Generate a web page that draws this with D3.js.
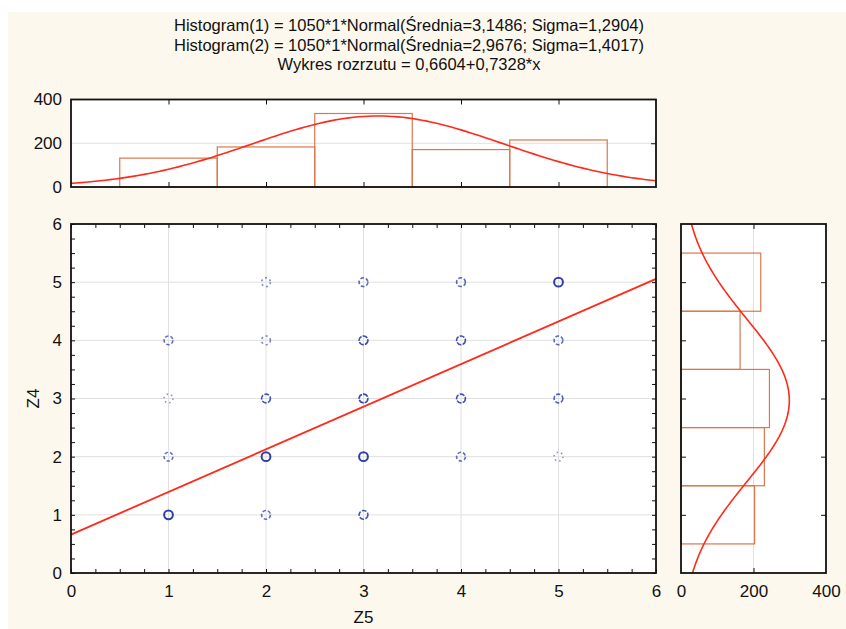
<!DOCTYPE html>
<html>
<head>
<meta charset="utf-8">
<script src="https://cdn.jsdelivr.net/npm/d3@7"></script>
<style>
  body { margin: 0; background: #fff; }
  svg { display: block; font-family: "Liberation Sans", Arial, sans-serif; }
  .tick text { font-family: "Liberation Sans", Arial, sans-serif; font-size: 17px; fill: #111; }
  .tick line { stroke: #111; }
</style>
</head>
<body>
<svg width="846" height="629"></svg>
<script>
// DATA

var titleLines = [
    "Histogram(1) = 1050*1*Normal(Średnia=3,1486; Sigma=1,2904)",
    "Histogram(2) = 1050*1*Normal(Średnia=2,9676; Sigma=1,4017)",
    "Wykres rozrzutu = 0,6604+0,7328*x"
];

// top histogram (Z5)
var topBins = [1, 2, 3, 4, 5];
var topCounts = [132, 183, 336, 171, 215];
// right histogram (Z4)
var rightBins = [1, 2, 3, 4, 5];
var rightCounts = [203, 230, 244, 163, 220];

// fitted normals from the title
var fitN = 1050, mean1 = 3.1486, sd1 = 1.2904, mean2 = 2.9676, sd2 = 1.4017;
var regA = 0.6604, regB = 0.7328;

// scatter points: Z5, Z4, how strong the marker looks
var ptX = [1, 1, 1, 1, 2, 2, 2, 2, 2, 3, 3, 3, 3, 3, 4, 4, 4, 4, 5, 5, 5, 5];
var ptY = [1, 2, 3, 4, 1, 2, 3, 4, 5, 1, 2, 3, 4, 5, 2, 3, 4, 5, 2, 3, 4, 5];
var ptW = [1.0, 0.45, 0.1, 0.5, 0.5, 1.0, 0.75, 0.25, 0.2, 0.75, 1.0, 0.9, 0.85, 0.55,
           0.5, 0.8, 0.8, 0.6, 0.1, 0.65, 0.55, 1.0];

var mainTicks = [0, 1, 2, 3, 4, 5, 6];
var histTicks = [0, 200, 400];

// SETUP

var svg = d3.select("svg");

var x = d3.scaleLinear().domain([0, 6]).range([71, 656]),
    y = d3.scaleLinear().domain([0, 6]).range([573, 224]),
    topY = d3.scaleLinear().domain([0, 400]).range([187, 99.5]),
    rightX = d3.scaleLinear().domain([0, 400]).range([681, 826]);

var minor = d3.range(0, 6.001, 0.25);
var fmt = d3.format("d");

// background: cream with a white strip top and left
svg.append("rect").attr("width", 846).attr("height", 629).attr("fill", "#fff");
svg.append("rect").attr("x", 8).attr("y", 12).attr("width", 838).attr("height", 617)
    .attr("fill", "#fcf8ed");

// TITLE
svg.append("g").selectAll("text")
    .data(titleLines)
    .enter().append("text")
    .attr("x", 409)
    .attr("y", function (d, i) { return 31 + i * 19.5; })
    .attr("text-anchor", "middle")
    .attr("font-size", "16.5px")
    .attr("fill", "#111")
    .text(function (d) { return d; });

function normal(v, m, s) {
    return fitN * Math.exp(-0.5 * Math.pow((v - m) / s, 2)) / (s * Math.sqrt(2 * Math.PI));
}

function noDomain(g) { g.select(".domain").remove(); }

// ---- TOP HISTOGRAM ----
var gt = svg.append("g");
gt.append("rect")
    .attr("x", x(0)).attr("y", topY(400))
    .attr("width", x(6) - x(0)).attr("height", topY(0) - topY(400))
    .attr("fill", "#fff");
gt.append("line")
    .attr("x1", x(0)).attr("x2", x(6))
    .attr("y1", topY(200)).attr("y2", topY(200))
    .attr("stroke", "#e0e0e0");

gt.selectAll(".tbar")
    .data(topBins)
    .enter().append("rect")
    .attr("class", "tbar")
    .attr("x", function (d) { return x(d - 0.5); })
    .attr("y", function (d, i) { return topY(topCounts[i]); })
    .attr("width", x(1) - x(0))
    .attr("height", function (d, i) { return topY(0) - topY(topCounts[i]); })
    .attr("fill", "none")
    .attr("stroke", "#d9784c")
    .attr("stroke-width", 1.2);

var topCurve = d3.range(0, 6.001, 0.05);
gt.append("path")
    .datum(topCurve)
    .attr("fill", "none")
    .attr("stroke", "#ff2a1a")
    .attr("stroke-width", 1.6)
    .attr("d", d3.line()
        .x(function (d) { return x(d); })
        .y(function (d) { return topY(normal(d, mean1, sd1)); }));

gt.append("g")
    .attr("transform", "translate(" + x(0) + ",0)")
    .call(d3.axisLeft(topY).tickValues(histTicks).tickSize(0).tickPadding(9).tickFormat(fmt))
    .call(noDomain);
gt.append("g")
    .attr("transform", "translate(0," + topY(0) + ")")
    .call(d3.axisBottom(x).tickValues([1, 2, 3, 4, 5]).tickSize(-5).tickFormat(""))
    .call(noDomain);
gt.append("g")
    .attr("transform", "translate(0," + topY(400) + ")")
    .call(d3.axisTop(x).tickValues([1, 2, 3, 4, 5]).tickSize(-5).tickFormat(""))
    .call(noDomain);
gt.append("g")
    .attr("transform", "translate(" + x(6) + ",0)")
    .call(d3.axisRight(topY).tickValues([200]).tickSize(-5).tickFormat(""))
    .call(noDomain);
gt.append("rect")
    .attr("x", x(0)).attr("y", topY(400))
    .attr("width", x(6) - x(0)).attr("height", topY(0) - topY(400))
    .attr("fill", "none").attr("stroke", "#111").attr("stroke-width", 1.8);

// ---- MAIN SCATTER ----
var gm = svg.append("g");
gm.append("rect")
    .attr("x", x(0)).attr("y", y(6))
    .attr("width", x(6) - x(0)).attr("height", y(0) - y(6))
    .attr("fill", "#fff");

gm.selectAll(".gx")
    .data([1, 2, 3, 4, 5])
    .enter().append("line")
    .attr("x1", function (d) { return x(d); })
    .attr("x2", function (d) { return x(d); })
    .attr("y1", y(0)).attr("y2", y(6))
    .attr("stroke", "#e0e0e0");
gm.selectAll(".gy")
    .data([1, 2, 3, 4, 5])
    .enter().append("line")
    .attr("y1", function (d) { return y(d); })
    .attr("y2", function (d) { return y(d); })
    .attr("x1", x(0)).attr("x2", x(6))
    .attr("stroke", "#e0e0e0");

gm.selectAll(".pt")
    .data(ptX)
    .enter().append("circle")
    .attr("class", "pt")
    .attr("cx", function (d) { return x(d); })
    .attr("cy", function (d, i) { return y(ptY[i]); })
    .attr("r", 4.4)
    .attr("fill", "none")
    .attr("stroke", "#2f3fa8")
    .attr("stroke-width", function (d, i) { return ptW[i] > 0.9 ? 2 : 1.6; })
    .attr("stroke-opacity", function (d, i) { return 0.5 + 0.5 * ptW[i]; })
    .attr("stroke-dasharray", function (d, i) {
        var w = ptW[i];
        if (w > 0.9) return null;
        return (1 + 5 * w) + " " + (0.8 + 2.5 * (1 - w));
    });

gm.append("line")
    .attr("x1", x(0)).attr("y1", y(regA))
    .attr("x2", x(6)).attr("y2", y(regA + regB * 6))
    .attr("stroke", "#ff2a1a")
    .attr("stroke-width", 1.8);

gm.append("g")
    .attr("transform", "translate(0," + y(0) + ")")
    .call(d3.axisBottom(x).tickValues(minor).tickSize(-4).tickFormat(""))
    .call(noDomain);
gm.append("g")
    .attr("transform", "translate(0," + y(0) + ")")
    .call(d3.axisBottom(x).tickValues(mainTicks).tickSize(0).tickPadding(12).tickFormat(fmt))
    .call(noDomain);
gm.append("g")
    .attr("transform", "translate(0," + y(6) + ")")
    .call(d3.axisTop(x).tickValues(minor).tickSize(-4).tickFormat(""))
    .call(noDomain);
gm.append("g")
    .attr("transform", "translate(" + x(0) + ",0)")
    .call(d3.axisLeft(y).tickValues(minor).tickSize(-4).tickFormat(""))
    .call(noDomain);
gm.append("g")
    .attr("transform", "translate(" + x(0) + ",0)")
    .call(d3.axisLeft(y).tickValues(mainTicks).tickSize(0).tickPadding(9).tickFormat(fmt))
    .call(noDomain);
gm.append("g")
    .attr("transform", "translate(" + x(6) + ",0)")
    .call(d3.axisRight(y).tickValues(minor).tickSize(-4).tickFormat(""))
    .call(noDomain);
gm.append("rect")
    .attr("x", x(0)).attr("y", y(6))
    .attr("width", x(6) - x(0)).attr("height", y(0) - y(6))
    .attr("fill", "none").attr("stroke", "#111").attr("stroke-width", 1.8);

svg.append("text")
    .attr("x", x(3)).attr("y", 623)
    .attr("text-anchor", "middle")
    .attr("font-size", "17px").attr("fill", "#111")
    .text("Z5");
svg.append("text")
    .attr("transform", "translate(39," + y(3) + ") rotate(-90)")
    .attr("text-anchor", "middle")
    .attr("font-size", "17px").attr("fill", "#111")
    .text("Z4");

// ---- RIGHT HISTOGRAM ----
var gr = svg.append("g");
gr.append("rect")
    .attr("x", rightX(0)).attr("y", y(6))
    .attr("width", rightX(400) - rightX(0)).attr("height", y(0) - y(6))
    .attr("fill", "#fff");
gr.append("line")
    .attr("x1", rightX(200)).attr("x2", rightX(200))
    .attr("y1", y(0)).attr("y2", y(6))
    .attr("stroke", "#e0e0e0");

gr.selectAll(".rbar")
    .data(rightBins)
    .enter().append("rect")
    .attr("class", "rbar")
    .attr("x", rightX(0))
    .attr("y", function (d) { return y(d + 0.5); })
    .attr("width", function (d, i) { return rightX(rightCounts[i]) - rightX(0); })
    .attr("height", y(0) - y(1))
    .attr("fill", "none")
    .attr("stroke", "#d9784c")
    .attr("stroke-width", 1.2);

var rightCurve = d3.range(0, 6.001, 0.05);
gr.append("path")
    .datum(rightCurve)
    .attr("fill", "none")
    .attr("stroke", "#ff2a1a")
    .attr("stroke-width", 1.6)
    .attr("d", d3.line()
        .x(function (d) { return rightX(normal(d, mean2, sd2)); })
        .y(function (d) { return y(d); }));

gr.append("g")
    .attr("transform", "translate(0," + y(0) + ")")
    .call(d3.axisBottom(rightX).tickValues(histTicks).tickSize(0).tickPadding(12).tickFormat(fmt))
    .call(noDomain);
gr.append("g")
    .attr("transform", "translate(0," + y(0) + ")")
    .call(d3.axisBottom(rightX).tickValues([200]).tickSize(-5).tickFormat(""))
    .call(noDomain);
gr.append("g")
    .attr("transform", "translate(0," + y(6) + ")")
    .call(d3.axisTop(rightX).tickValues([200]).tickSize(-5).tickFormat(""))
    .call(noDomain);
gr.append("g")
    .attr("transform", "translate(" + rightX(0) + ",0)")
    .call(d3.axisLeft(y).tickValues([1, 2, 3, 4, 5]).tickSize(-5).tickFormat(""))
    .call(noDomain);
gr.append("g")
    .attr("transform", "translate(" + rightX(400) + ",0)")
    .call(d3.axisRight(y).tickValues([1, 2, 3, 4, 5]).tickSize(-5).tickFormat(""))
    .call(noDomain);
gr.append("rect")
    .attr("x", rightX(0)).attr("y", y(6))
    .attr("width", rightX(400) - rightX(0)).attr("height", y(0) - y(6))
    .attr("fill", "none").attr("stroke", "#111").attr("stroke-width", 1.8);
</script>
</body>
</html>
